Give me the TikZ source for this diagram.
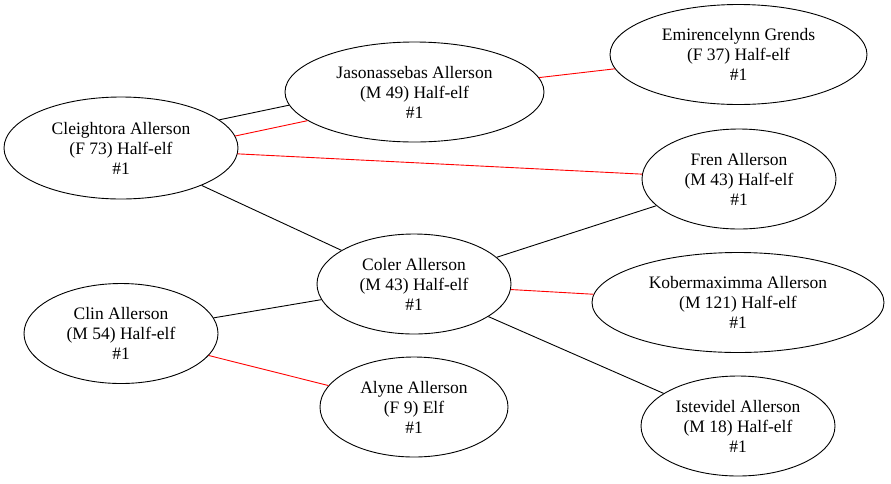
\documentclass[tikz,border=0pt]{standalone}
\usepackage{fontspec}
\setmainfont{Liberation Serif}
\usetikzlibrary{shapes.geometric}
\begin{document}
\begin{tikzpicture}[x=1pt,y=-1pt,
  person/.style={draw, ellipse, line width=0.9pt, inner sep=0pt, minimum height=100pt,
    align=center, font=\fontsize{17.5}{20}\selectfont},
  kin/.style={line width=0.9pt, black},
  mate/.style={line width=0.9pt, red}]
\useasboundingbox (0,0) rectangle (891,483);
\node[person, minimum width=234pt, minimum height=102pt] (cl) at (121,148) {Cleightora Allerson\\(F 73) Half-elf\\\#1};
\node[person, minimum width=259pt] (ja) at (414.5,92) {Jasonassebas Allerson\\(M 49) Half-elf\\\#1};
\node[person, minimum width=257pt] (em) at (738.5,54.5) {Emirencelynn Grends\\(F 37) Half-elf\\\#1};
\node[person, minimum width=194pt] (fr) at (739,179) {Fren Allerson\\(M 43) Half-elf\\\#1};
\node[person, minimum width=194pt] (co) at (414,284) {Coler Allerson\\(M 43) Half-elf\\\#1};
\node[person, minimum width=292pt] (ko) at (738,302.5) {Kobermaximma Allerson\\(M 121) Half-elf\\\#1};
\node[person, minimum width=194pt] (cn) at (121,333.5) {Clin Allerson\\(M 54) Half-elf\\\#1};
\node[person, minimum width=188pt] (al) at (414,407) {Alyne Allerson\\(F 9) Elf\\\#1};
\node[person, minimum width=194pt] (is) at (738,426) {Istevidel Allerson\\(M 18) Half-elf\\\#1};
\draw[kin] (cl.16) -- (ja.186);
\draw[mate] (cl.6.5) -- (ja.195);
\draw[mate] (ja) -- (em);
\draw[mate] (cl) -- (fr);
\draw[kin] (cl) -- (co);
\draw[kin] (co) -- (fr);
\draw[mate] (co) -- (ko);
\draw[kin] (co) -- (is);
\draw[kin] (cn) -- (co);
\draw[mate] (cn) -- (al);
\end{tikzpicture}
\end{document}
